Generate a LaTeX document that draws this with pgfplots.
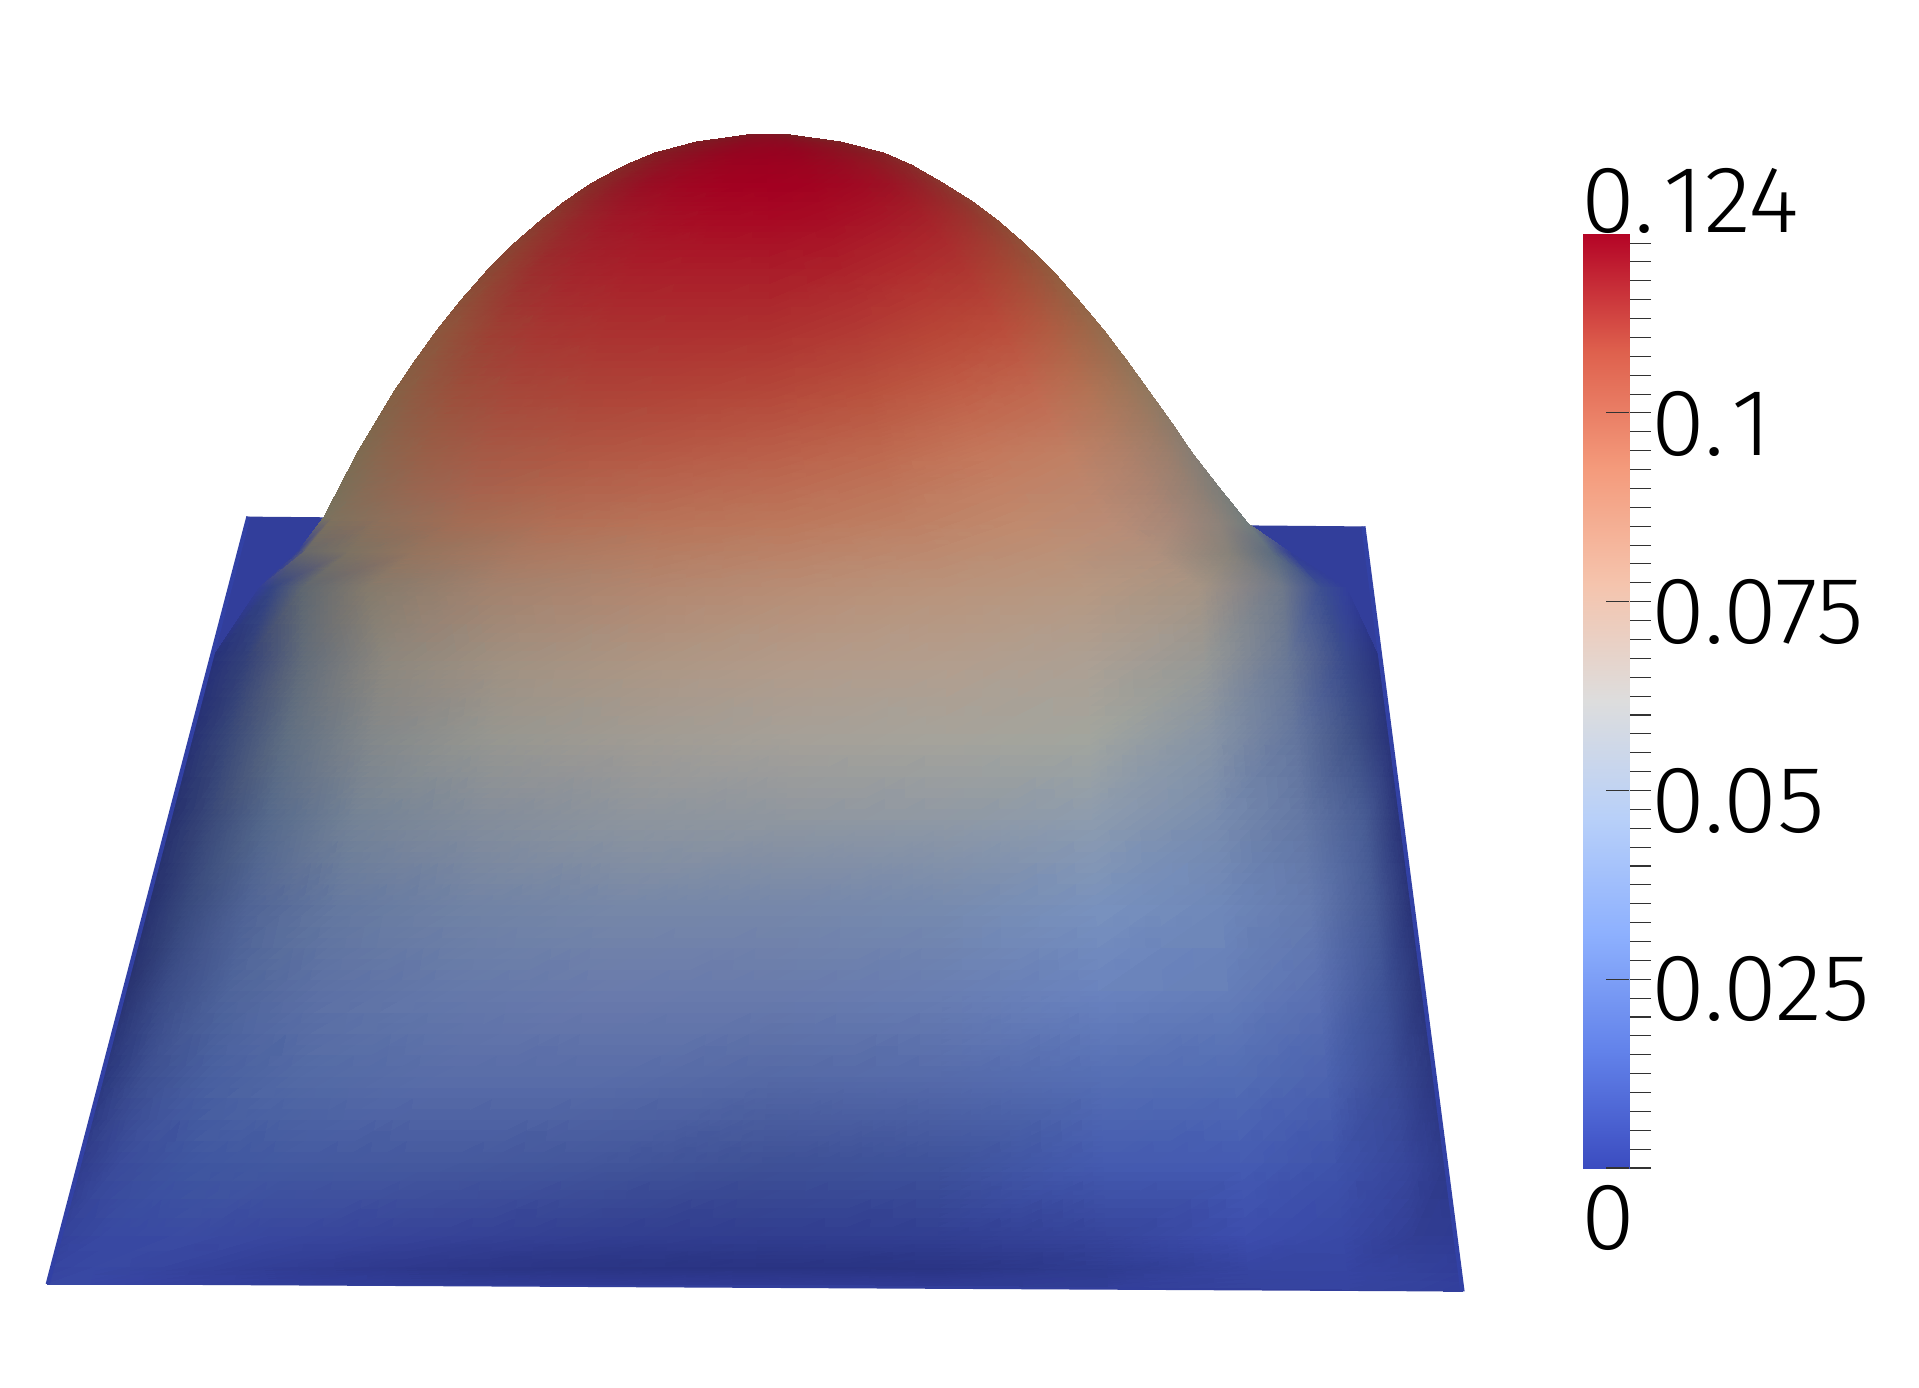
\documentclass[border=0pt]{standalone}
\usepackage{fontspec}
\setmainfont{Fira Sans}[UprightFont=* Light]
\usepackage{pgfplots}
\pgfplotsset{compat=1.18}
\usepackage{pgfplotstable}

\definecolor{plate}{RGB}{50,62,155}
\definecolor{plateedge}{RGB}{50,65,165}
\definecolor{tickgray}{RGB}{50,50,50}

% surface as seen on screen: x y (in 1568x1133 picture units) and colour
\pgfplotstableread{
x y c
612 110 rgb255=120,30,35
613 110 rgb255=122,28,35
615 110 rgb255=124,25,35
618 110 rgb255=126,22,35
622 110 rgb255=128,20,34
625 110 rgb255=130,18,34
628 110 rgb255=132,18,34
631 110 rgb255=130,18,34
634 110 rgb255=128,20,34
638 110 rgb255=126,22,35
641 110 rgb255=124,25,35
643 110 rgb255=122,28,35
644 110 rgb255=120,30,35
569 116 rgb255=124,32,36
573 116 rgb255=126,29,35
579 116 rgb255=129,24,35
587 116 rgb255=132,20,34
599 116 rgb255=136,15,33
613 116 rgb255=140,10,33
628 116 rgb255=142,9,33
643 116 rgb255=140,10,33
657 116 rgb255=136,16,33
669 116 rgb255=133,21,34
677 116 rgb255=130,26,35
683 116 rgb255=128,30,36
687 116 rgb255=126,34,38
535 125 rgb255=128,35,38
541 125 rgb255=130,30,36
550 125 rgb255=134,24,35
563 125 rgb255=138,18,34
582 125 rgb255=144,10,33
604 125 rgb255=150,4,32
628 125 rgb255=152,2,32
653 125 rgb255=150,4,32
675 125 rgb255=145,12,33
694 125 rgb255=140,20,34
707 125 rgb255=136,26,35
716 125 rgb255=134,32,38
722 125 rgb255=132,38,40
511 135 rgb255=130,42,40
518 135 rgb255=133,35,38
530 135 rgb255=138,26,36
546 135 rgb255=144,17,35
570 135 rgb255=151,9,33
598 135 rgb255=156,3,32
628 135 rgb255=158,1,32
658 135 rgb255=156,4,32
687 135 rgb255=152,11,34
710 135 rgb255=148,20,35
726 135 rgb255=142,29,37
738 135 rgb255=138,38,40
745 135 rgb255=135,46,43
483 150 rgb255=132,48,42
492 150 rgb255=136,40,40
506 150 rgb255=142,28,38
526 150 rgb255=150,16,36
555 150 rgb255=158,8,34
590 150 rgb255=162,2,33
627 150 rgb255=163,0,33
664 150 rgb255=162,3,33
699 150 rgb255=160,10,35
728 150 rgb255=155,20,37
748 150 rgb255=148,32,40
762 150 rgb255=142,44,43
771 150 rgb255=138,55,47
461 165 rgb255=134,55,45
471 165 rgb255=139,46,42
488 165 rgb255=146,33,40
511 165 rgb255=154,21,38
545 165 rgb255=161,13,36
585 165 rgb255=165,7,35
628 165 rgb255=166,5,35
671 165 rgb255=165,9,35
712 165 rgb255=164,17,37
745 165 rgb255=160,28,39
768 165 rgb255=153,40,42
785 165 rgb255=145,52,45
795 165 rgb255=140,64,50
442 180 rgb255=135,62,48
453 180 rgb255=142,52,45
472 180 rgb255=150,38,42
498 180 rgb255=158,26,40
535 180 rgb255=164,18,38
580 180 rgb255=167,12,36
628 180 rgb255=168,10,36
677 180 rgb255=167,14,37
722 180 rgb255=167,24,40
759 180 rgb255=165,35,42
785 180 rgb255=158,48,45
804 180 rgb255=148,60,48
815 180 rgb255=142,72,52
419 200 rgb255=136,68,51
432 200 rgb255=144,58,47
453 200 rgb255=152,43,44
482 200 rgb255=160,32,42
524 200 rgb255=166,25,40
574 200 rgb255=169,21,39
629 200 rgb255=169,20,39
683 200 rgb255=170,25,40
733 200 rgb255=172,35,43
775 200 rgb255=170,45,46
804 200 rgb255=162,59,49
825 200 rgb255=152,71,53
838 200 rgb255=144,82,57
399 220 rgb255=136,75,54
413 220 rgb255=145,65,50
436 220 rgb255=154,48,46
468 220 rgb255=162,38,44
514 220 rgb255=168,32,42
569 220 rgb255=170,30,42
629 220 rgb255=170,30,42
689 220 rgb255=172,35,43
744 220 rgb255=176,45,46
790 220 rgb255=174,55,49
822 220 rgb255=166,70,52
845 220 rgb255=155,82,58
859 220 rgb255=146,92,62
377 245 rgb255=137,82,58
392 245 rgb255=146,72,54
417 245 rgb255=155,56,49
453 245 rgb255=164,46,47
503 245 rgb255=169,41,45
563 245 rgb255=172,39,45
629 245 rgb255=172,40,45
695 245 rgb255=175,47,48
755 245 rgb255=180,58,51
805 245 rgb255=180,66,54
841 245 rgb255=171,81,59
866 245 rgb255=158,92,65
881 245 rgb255=147,100,70
357 270 rgb255=138,88,62
373 270 rgb255=146,80,58
401 270 rgb255=156,65,52
439 270 rgb255=165,55,50
493 270 rgb255=170,50,48
559 270 rgb255=173,48,48
629 270 rgb255=174,50,48
700 270 rgb255=178,58,52
766 270 rgb255=184,70,55
820 270 rgb255=186,78,60
858 270 rgb255=176,92,66
886 270 rgb255=160,102,72
902 270 rgb255=148,108,78
339 295 rgb255=135,93,66
356 295 rgb255=144,85,62
386 295 rgb255=155,72,56
426 295 rgb255=165,63,54
485 295 rgb255=171,59,52
554 295 rgb255=175,58,52
630 295 rgb255=177,61,53
706 295 rgb255=181,70,57
776 295 rgb255=188,82,63
834 295 rgb255=189,92,70
874 295 rgb255=177,104,75
904 295 rgb255=160,110,81
921 295 rgb255=146,114,86
322 320 rgb255=132,98,70
341 320 rgb255=143,90,66
371 320 rgb255=155,80,60
415 320 rgb255=165,72,58
476 320 rgb255=172,68,56
550 320 rgb255=177,68,56
630 320 rgb255=180,72,58
711 320 rgb255=185,82,62
785 320 rgb255=192,95,72
846 320 rgb255=192,105,80
890 320 rgb255=178,115,85
920 320 rgb255=160,118,90
939 320 rgb255=145,120,95
307 345 rgb255=128,103,76
327 345 rgb255=140,96,72
359 345 rgb255=153,88,66
405 345 rgb255=165,81,64
470 345 rgb255=173,78,62
548 345 rgb255=179,79,63
632 345 rgb255=183,84,66
717 345 rgb255=187,94,71
795 345 rgb255=194,108,82
860 345 rgb255=192,116,90
905 345 rgb255=176,122,95
938 345 rgb255=157,122,99
957 345 rgb255=140,122,105
292 370 rgb255=125,108,82
312 370 rgb255=138,102,78
347 370 rgb255=152,95,72
394 370 rgb255=165,90,70
462 370 rgb255=175,88,68
544 370 rgb255=182,90,70
633 370 rgb255=186,96,74
722 370 rgb255=190,106,80
803 370 rgb255=196,120,92
872 370 rgb255=192,128,100
919 370 rgb255=175,128,105
954 370 rgb255=155,126,108
974 370 rgb255=135,125,115
278 397 rgb255=122,111,88
300 397 rgb255=135,107,85
335 397 rgb255=150,102,80
386 397 rgb255=165,98,77
457 397 rgb255=176,99,76
543 397 rgb255=183,102,79
637 397 rgb255=187,108,83
730 397 rgb255=190,117,90
816 397 rgb255=194,129,101
887 397 rgb255=188,134,109
938 397 rgb255=170,131,112
973 397 rgb255=147,128,115
995 397 rgb255=125,125,120
265 422 rgb255=120,115,95
272 423 rgb255=126,113,93
310 423 rgb255=140,111,90
378 424 rgb255=162,108,84
454 424 rgb255=176,110,85
544 425 rgb255=184,115,88
643 425 rgb255=188,120,92
741 426 rgb255=190,128,100
831 426 rgb255=192,138,110
907 427 rgb255=185,140,118
960 427 rgb255=165,135,120
997 428 rgb255=140,130,122
1020 428 rgb255=115,125,125
244 450 rgb255=50,62,150
250 450 rgb255=105,105,105
287 450 rgb255=125,114,98
340 450 rgb255=148,116,94
427 450 rgb255=170,120,96
537 450 rgb255=181,125,99
648 451 rgb255=186,131,105
758 451 rgb255=188,138,112
859 451 rgb255=187,145,120
943 451 rgb255=175,144,125
1004 452 rgb255=135,130,122
1040 452 rgb255=92,108,128
1055 452 rgb255=50,62,150
212 480 rgb255=50,62,150
222 480 rgb255=52,68,132
248 480 rgb255=95,103,112
300 480 rgb255=132,122,108
400 480 rgb255=162,130,110
530 480 rgb255=178,135,112
654 480 rgb255=184,142,118
775 480 rgb255=185,148,124
887 480 rgb255=182,152,130
980 480 rgb255=165,148,132
1048 480 rgb255=110,120,138
1080 480 rgb255=60,78,145
1100 480 rgb255=50,62,155
172 540 rgb255=38,48,120
201 540 rgb255=52,65,120
248 540 rgb255=98,108,122
315 540 rgb255=140,135,126
411 540 rgb255=160,145,130
526 540 rgb255=172,150,132
650 540 rgb255=178,155,138
774 540 rgb255=178,158,142
889 540 rgb255=172,160,148
985 540 rgb255=150,152,150
1052 540 rgb255=105,120,150
1099 540 rgb255=58,75,140
1128 540 rgb255=40,50,125
156 600 rgb255=38,48,115
185 600 rgb255=55,70,120
234 600 rgb255=95,110,130
303 600 rgb255=130,135,138
401 600 rgb255=150,150,144
519 600 rgb255=160,155,147
646 600 rgb255=165,160,152
773 600 rgb255=165,163,155
891 600 rgb255=162,165,158
989 600 rgb255=135,148,165
1058 600 rgb255=100,118,158
1107 600 rgb255=62,80,135
1136 600 rgb255=40,50,120
138 670 rgb255=38,48,110
168 670 rgb255=55,70,120
219 670 rgb255=85,105,140
289 670 rgb255=115,130,150
390 670 rgb255=130,140,155
511 670 rgb255=140,148,158
642 670 rgb255=142,150,160
772 670 rgb255=142,152,165
893 670 rgb255=140,155,175
994 670 rgb255=120,140,175
1064 670 rgb255=100,120,165
1115 670 rgb255=72,92,148
1145 670 rgb255=40,50,118
120 740 rgb255=38,48,110
151 740 rgb255=55,72,125
203 740 rgb255=80,100,150
275 740 rgb255=100,120,160
379 740 rgb255=112,130,165
503 740 rgb255=118,135,168
637 740 rgb255=118,135,170
771 740 rgb255=118,138,175
896 740 rgb255=120,145,190
999 740 rgb255=110,135,185
1071 740 rgb255=100,122,175
1123 740 rgb255=70,90,150
1154 740 rgb255=40,50,118
102 810 rgb255=40,50,112
134 810 rgb255=58,75,135
187 810 rgb255=78,100,155
261 810 rgb255=92,112,165
367 810 rgb255=100,120,170
495 810 rgb255=105,122,172
633 810 rgb255=104,122,172
770 810 rgb255=104,125,178
898 810 rgb255=105,130,190
1004 810 rgb255=100,125,185
1078 810 rgb255=90,112,178
1131 810 rgb255=62,82,150
1163 810 rgb255=42,52,120
83 880 rgb255=42,55,125
116 880 rgb255=60,78,145
170 880 rgb255=72,95,160
246 880 rgb255=82,105,165
355 880 rgb255=88,108,168
486 880 rgb255=88,108,168
628 880 rgb255=84,104,165
769 880 rgb255=85,106,170
900 880 rgb255=85,110,180
1009 880 rgb255=82,108,180
1085 880 rgb255=75,98,175
1139 880 rgb255=58,75,150
1172 880 rgb255=44,55,128
65 950 rgb255=48,60,140
98 950 rgb255=58,75,155
154 950 rgb255=62,85,160
232 950 rgb255=66,88,160
344 950 rgb255=68,88,158
478 950 rgb255=66,85,155
623 950 rgb255=62,80,150
768 950 rgb255=62,82,155
902 950 rgb255=68,90,175
1014 950 rgb255=68,90,178
1092 950 rgb255=62,82,170
1148 950 rgb255=55,70,155
1181 950 rgb255=46,58,138
49 1010 rgb255=52,66,155
83 1010 rgb255=56,72,162
140 1010 rgb255=58,74,162
220 1010 rgb255=56,70,158
334 1010 rgb255=54,66,152
471 1010 rgb255=50,62,145
619 1010 rgb255=48,60,142
767 1010 rgb255=49,62,145
904 1010 rgb255=54,68,155
1018 1010 rgb255=60,76,172
1098 1010 rgb255=56,72,165
1155 1010 rgb255=50,62,148
1189 1010 rgb255=48,60,148
43 1035 rgb255=54,68,160
78 1035 rgb255=56,72,163
135 1035 rgb255=54,68,158
215 1035 rgb255=50,62,150
331 1035 rgb255=46,56,140
469 1035 rgb255=42,52,132
618 1035 rgb255=41,51,130
767 1036 rgb255=42,52,132
905 1037 rgb255=47,60,145
1020 1038 rgb255=54,68,160
1101 1039 rgb255=54,68,162
1158 1040 rgb255=52,66,156
1193 1040 rgb255=50,62,155
39 1049 rgb255=56,70,165
74 1049 rgb255=56,70,165
131 1049 rgb255=54,66,160
212 1049 rgb255=50,62,155
328 1049 rgb255=48,60,150
467 1049 rgb255=48,58,148
617 1049 rgb255=48,58,148
767 1050 rgb255=48,58,148
906 1051 rgb255=50,62,152
1022 1052 rgb255=54,68,158
1103 1053 rgb255=54,68,160
1160 1054 rgb255=52,66,158
1195 1055 rgb255=50,64,158
}\surface

\pgfplotstableread{
x y v
0 0 0
1 0 0
0 0.1237 0.1237
1 0.1237 0.1237
}\barstrip

\begin{document}
\begin{tikzpicture}
\useasboundingbox (0,0) rectangle (19.19cm,13.87cm);

% colour bar
\begin{axis}[
    at={(15.83cm,2.19cm)},
    anchor=south west,
    scale only axis,
    width=0.46cm,
    height=9.34cm,
    xmin=0, xmax=1,
    ymin=0, ymax=0.1237,
    colormap={ctw}{rgb255=(59,76,192) rgb255=(98,130,234) rgb255=(141,176,254) rgb255=(184,208,249) rgb255=(221,221,221) rgb255=(245,196,173) rgb255=(244,154,123) rgb255=(222,96,77) rgb255=(180,4,38)},
    point meta min=0, point meta max=0.1237,
    axis line style={draw=none},
    xtick=\empty,
    ytick pos=right,
    ytick={0,0.0025,0.005,0.0075,0.01,0.0125,0.015,0.0175,0.02,0.0225,0.025,0.0275,0.03,0.0325,0.035,0.0375,0.04,0.0425,0.045,0.0475,0.05,0.0525,0.055,0.0575,0.06,0.0625,0.065,0.0675,0.07,0.0725,0.075,0.0775,0.08,0.0825,0.085,0.0875,0.09,0.0925,0.095,0.0975,0.1,0.1025,0.105,0.1075,0.11,0.1125,0.115,0.1175,0.12,0.1225},
    yticklabels={},
    tick align=outside,
    major tick length=0.22cm,
    tick style={tickgray, line width=0.3pt},
    clip=false,
]
\addplot[surf, shader=interp, mesh/cols=2, point meta=\thisrow{v}] table {\barstrip};
% the major ticks reach into the bar
\addplot[tickgray, line width=0.3pt, forget plot] coordinates {(0.5,0.1) (1,0.1)};
\addplot[tickgray, line width=0.3pt, forget plot] coordinates {(0.5,0.075) (1,0.075)};
\addplot[tickgray, line width=0.3pt, forget plot] coordinates {(0.5,0.05) (1,0.05)};
\addplot[tickgray, line width=0.3pt, forget plot] coordinates {(0.5,0.025) (1,0.025)};
\addplot[tickgray, line width=0.3pt, forget plot] coordinates {(0.5,0) (1,0)};
\end{axis}

% surface, in picture units
\begin{axis}[
    at={(0,0)},
    anchor=south west,
    scale only axis,
    width=19.19cm,
    height=13.87cm,
    xmin=0, xmax=1568,
    ymin=0, ymax=1133,
    y dir=reverse,
    hide axis,
    clip=false,
    nodes={font=\fontsize{27}{27}\selectfont, inner sep=0pt, anchor=base west, xscale=1.03},
]
\addplot[draw=none, fill=plate] coordinates {(203,422) (1114,430) (1195,1055) (39,1049) (203,422)};
\addplot[surf, shader=interp, mesh/cols=13, mesh/color input=explicit] table[x=x, y=y, meta=c] {\surface};
\addplot[plateedge, line width=1.2pt] coordinates {(203,422) (39,1049)};
\addplot[plateedge, line width=1.2pt] coordinates {(1114,430) (1195,1055)};

\node at (axis cs:1292,189.6) {0.\kern2.5pt 124};
\node at (axis cs:1349,372) {0.\kern2pt 1};
\node at (axis cs:1349,526) {0.075};
\node at (axis cs:1349,680) {0.05};
\node at (axis cs:1349,833.5) {0.025};
\node at (axis cs:1292,1021) {0};
\end{axis}
\end{tikzpicture}
\end{document}
